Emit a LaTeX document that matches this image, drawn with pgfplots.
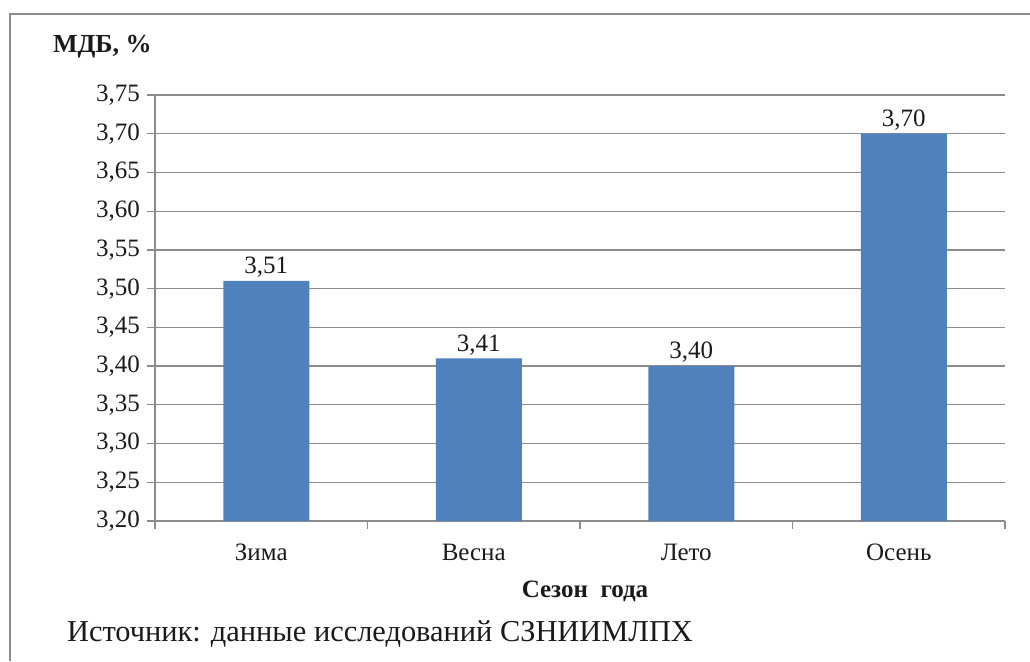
\documentclass[border=0pt]{standalone}
\usepackage{pgfplots}
\pgfplotsset{compat=1.18}
\usepackage{fontspec}
\setmainfont{Liberation Serif}
\definecolor{barblue}{HTML}{4F81BD}
\definecolor{gridgrey}{HTML}{8C8C8C}
\definecolor{txt}{HTML}{1A1A1A}
\begin{document}
\begin{tikzpicture}[x=0.5pt,y=0.5pt]
\useasboundingbox (0,0) rectangle (1030,661);
\draw[gridgrey,line width=1.2pt] (10,0) -- (10,647) -- (1030,647);
\node[anchor=west,font=\fontsize{13}{14}\selectfont\bfseries,text=txt] at (46,614) {МДБ, \%};
\node[font=\fontsize{12.5}{13}\selectfont\bfseries,text=txt] at (585,70) {Сезон\ \ года};
\node[anchor=west,font=\fontsize{15.2}{16}\selectfont,text=txt] at (60,27) {Источник: данные исследований СЗНИИМЛПХ};
\begin{axis}[
  at={(77.5pt,70pt)}, anchor=south west,
  scale only axis, width=425pt, height=213pt,
  xmin=-0.5, xmax=3.5, ymin=3.2, ymax=3.75,
  axis x line*=bottom, axis y line*=left,
  axis line style={gridgrey, line width=0.6pt},
  xtick={0,1,2,3},
  xticklabels={Зима,Весна,Лето,Осень},
  minor xtick={-0.5,0.5,1.5,2.5,3.5},
  major x tick style={draw=none},
  minor x tick style={gridgrey, line width=0.6pt},
  minor tick length=4pt,
  ytick={3.2,3.25,...,3.76},
  major tick length=4pt,
  tick align=outside,
  y tick style={gridgrey, line width=0.6pt},
  ymajorgrids,
  grid style={gridgrey, line width=0.6pt},
  tick label style={font=\fontsize{12.5}{13}\selectfont, text=txt},
  y tick label style={/pgf/number format/.cd, fixed, fixed zerofill, precision=2, use comma},
  /pgf/number format/assume math mode=true,
  xticklabel style={yshift=-4pt},
  ybar, bar width=43pt,
  nodes near coords,
  nodes near coords style={font=\fontsize{12.5}{13}\selectfont, text=txt, inner sep=1.5pt, /pgf/number format/.cd, fixed, fixed zerofill, precision=2, use comma, assume math mode=true},
]
\addplot[fill=barblue, draw=none, bar shift=2.5pt] coordinates {(0,3.51) (1,3.41) (2,3.40) (3,3.70)};
\end{axis}
\end{tikzpicture}
\end{document}
